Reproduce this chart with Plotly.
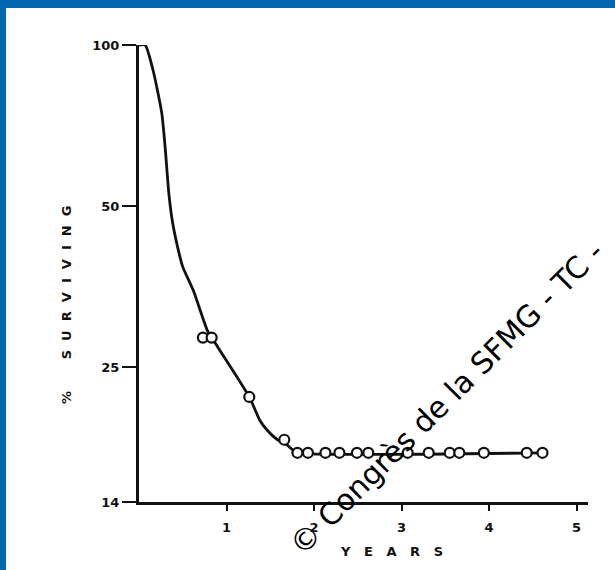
import plotly.graph_objects as go
import math

# Survival curve (line)
curve_t = [0.0, 0.07, 0.16, 0.26, 0.30, 0.34, 0.38, 0.44, 0.50, 0.62, 0.78, 0.83, 1.26, 1.38, 1.46, 1.58, 1.69, 1.76, 1.81, 4.61]
curve_pct = [100, 100, 89.8, 74.6, 64.0, 53.0, 47.0, 42.0, 38.5, 34.8, 29.3, 28.4, 22.0, 19.9, 19.1, 18.3, 17.9, 17.5, 17.3, 17.3]

# Observed points (open markers)
mark_t = [0.73, 0.83, 1.26, 1.66, 1.81, 1.93, 2.13, 2.29, 2.49, 2.62, 3.07, 3.31, 3.55, 3.66, 3.94, 4.43, 4.61]
mark_pct = [28.4, 28.4, 22.0, 18.3, 17.3, 17.3, 17.3, 17.3, 17.3, 17.3, 17.3, 17.3, 17.3, 17.3, 17.3, 17.3, 17.3]

y_ticks = [100, 50, 25, 14]
x_ticks = [1, 2, 3, 4, 5]

W, H = 615, 570
L, R, T, B = 139, 27, 45, 68
pw, ph = W - L - R, H - T - B

def px(x):
    return (x - L) / pw

def py(y):
    return 1 - (y - T) / ph

fig = go.Figure()
fig.add_trace(go.Scatter(x=curve_t, y=curve_pct, mode="lines",
                         line=dict(color="#111", width=2.8, shape="spline", smoothing=0.6),
                         hoverinfo="skip", showlegend=False))
fig.add_trace(go.Scatter(x=mark_t, y=mark_pct, mode="markers",
                         marker=dict(symbol="circle", size=10, color="white",
                                     line=dict(color="#111", width=2.2)),
                         showlegend=False))

tickfont = dict(family="DejaVu Sans", size=13, color="#111", weight=700)
fig.update_xaxes(range=[0, 5.13], tickvals=x_ticks, ticktext=[str(v) for v in x_ticks],
                 showline=True, linewidth=3, linecolor="#111", ticks="outside",
                 ticklen=6, tickwidth=2, tickcolor="#111", showgrid=False, zeroline=False,
                 tickfont=tickfont, ticklabelstandoff=5)
fig.update_yaxes(type="log", range=[math.log10(14), 2], tickvals=y_ticks,
                 ticktext=[str(v) for v in y_ticks],
                 showline=True, linewidth=3, linecolor="#111", ticks="outside",
                 ticklen=14, tickwidth=2, tickcolor="#111", showgrid=False, zeroline=False,
                 tickfont=tickfont)

shapes = [
    dict(type="rect", xref="paper", yref="paper", x0=px(-5), x1=px(W + 5), y0=py(0 - 5), y1=py(8),
         fillcolor="#0066B0", line=dict(width=0), layer="above"),
    dict(type="rect", xref="paper", yref="paper", x0=px(-5), x1=px(6), y0=py(-5), y1=py(H + 5),
         fillcolor="#0066B0", line=dict(width=0), layer="above"),
]

labfont = dict(family="DejaVu Sans", size=13, color="#111", weight=700)
annotations = [
    dict(text="Y   E   A   R   S", x=px(391), y=py(551), xref="paper", yref="paper",
         showarrow=False, xanchor="center", yanchor="middle", font=labfont),
    dict(text="%       S  U  R  V  I  V  I  N  G", x=px(66), y=py(305), xref="paper", yref="paper",
         showarrow=False, xanchor="center", yanchor="middle", textangle=-45 * 2, font=labfont),
    dict(text="© Congrès de la SFMG - TC -", x=px(446), y=py(398), xref="paper", yref="paper",
         showarrow=False, xanchor="center", yanchor="middle", textangle=-45,
         font=dict(family="DejaVu Sans", size=30, color="black")),
]

fig.update_layout(width=W, height=H, margin=dict(l=L, r=R, t=T, b=B),
                  paper_bgcolor="white", plot_bgcolor="white",
                  shapes=shapes, annotations=annotations)

fig.write_html("out.html", config={"displayModeBar": False},
               post_script="document.body.style.margin='0';")
